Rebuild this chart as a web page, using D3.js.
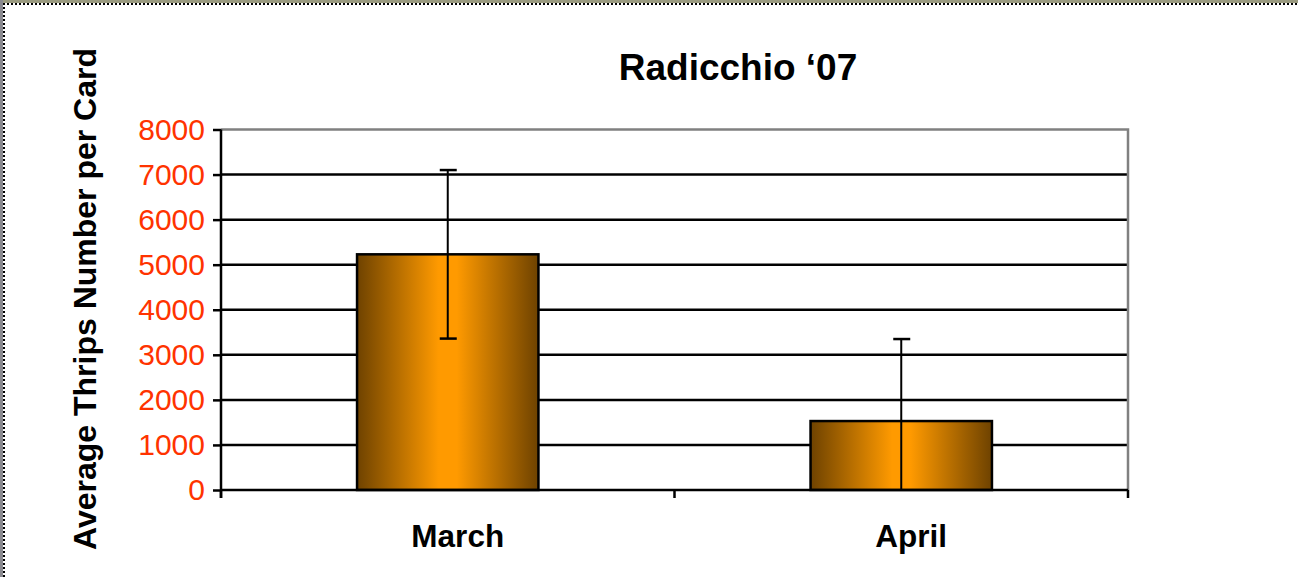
<!DOCTYPE html>
<html>
<head>
<meta charset="utf-8">
<script src="https://cdn.jsdelivr.net/npm/d3@7"></script>
<style>
  html, body { margin: 0; padding: 0; background: #fff; }
  svg { display: block; font-family: "Liberation Sans", Arial, sans-serif; }
</style>
</head>
<body>
<div id="chart"></div>
<script>
// data
const months = ['March', 'April'];
const means = [5230, 1530];
const errors = [1870, 1820];
const yTicks = [0, 1000, 2000, 3000, 4000, 5000, 6000, 7000, 8000];

const width = 1298, height = 577;
const margin = { left: 221, right: 170, top: 129.5, bottom: 87 };

const svg = d3.select('#chart').append('svg')
    .attr('width', width)
    .attr('height', height);

// frame of the slide (dotted edge)
svg.append('rect').attr('x', 0).attr('y', 0).attr('width', width).attr('height', 3)
    .attr('fill', '#9a9a80');
svg.append('rect').attr('x', 0).attr('y', 0).attr('width', 3).attr('height', height)
    .attr('fill', '#8a8a90');
svg.append('line').attr('x1', 3).attr('x2', width).attr('y1', 4).attr('y2', 4)
    .attr('stroke', '#000').attr('stroke-width', 2).attr('stroke-dasharray', '2,2');
svg.append('line').attr('x1', 4).attr('x2', 4).attr('y1', 3).attr('y2', height)
    .attr('stroke', '#000').attr('stroke-width', 2).attr('stroke-dasharray', '2,2');

const x = d3.scaleBand()
    .domain(months)
    .range([margin.left, width - margin.right])
    .paddingInner(0.6)
    .paddingOuter(0.3);

const y = d3.scaleLinear()
    .domain([0, 8000])
    .range([height - margin.bottom, margin.top]);

// gradient fill of the bars
const grad = svg.append('defs').append('linearGradient')
    .attr('id', 'barGrad')
    .attr('x1', '0%').attr('x2', '100%').attr('y1', '0%').attr('y2', '0%');
grad.append('stop').attr('offset', '0%').attr('stop-color', '#6e4200');
grad.append('stop').attr('offset', '45%').attr('stop-color', '#ff9a00');
grad.append('stop').attr('offset', '55%').attr('stop-color', '#ff9a00');
grad.append('stop').attr('offset', '100%').attr('stop-color', '#6e4200');

// grid lines
svg.append('g')
    .selectAll('line')
    .data(yTicks.filter(d => d > 0 && d < 8000))
    .join('line')
    .attr('x1', margin.left).attr('x2', width - margin.right)
    .attr('y1', d => y(d)).attr('y2', d => y(d))
    .attr('stroke', '#000').attr('stroke-width', 2.5);

// plot border, top and right
svg.append('path')
    .attr('d', `M${margin.left},${y(8000)}H${width - margin.right}V${y(0)}`)
    .attr('fill', 'none').attr('stroke', '#808080').attr('stroke-width', 2.5);

// bars
svg.append('g')
    .selectAll('rect')
    .data(months)
    .join('rect')
    .attr('x', d => x(d))
    .attr('width', x.bandwidth())
    .attr('y', (d, i) => y(means[i]))
    .attr('height', (d, i) => y(0) - y(means[i]))
    .attr('fill', 'url(#barGrad)')
    .attr('stroke', '#000').attr('stroke-width', 2.5);

// error bars, clipped at zero
const eb = svg.append('g').attr('stroke', '#000').attr('stroke-width', 2);
months.forEach((m, i) => {
    const cx = x(m) + x.bandwidth() / 2;
    const hi = means[i] + errors[i];
    const lo = Math.max(0, means[i] - errors[i]);
    eb.append('line').attr('x1', cx).attr('x2', cx).attr('y1', y(hi)).attr('y2', y(lo));
    eb.append('line').attr('x1', cx - 8).attr('x2', cx + 9).attr('y1', y(hi)).attr('y2', y(hi))
        .attr('stroke-width', 2.5);
    if (lo > 0) {
        eb.append('line').attr('x1', cx - 8).attr('x2', cx + 9).attr('y1', y(lo)).attr('y2', y(lo))
            .attr('stroke-width', 2.5);
    }
});

// y axis
const yAxis = svg.append('g')
    .attr('transform', `translate(${margin.left},0)`)
    .call(d3.axisLeft(y).tickValues(yTicks).tickFormat(d3.format('d'))
        .tickSize(8).tickPadding(8).tickSizeOuter(0));
yAxis.select('.domain').attr('stroke', '#000').attr('stroke-width', 2.5)
    .attr('d', `M0,${y(8000)}V${y(0) + 8}`);
yAxis.selectAll('.tick line').attr('stroke', '#000').attr('stroke-width', 2.5);
yAxis.selectAll('.tick text')
    .attr('fill', '#ff3300')
    .attr('font-size', 30)
    .attr('font-family', '"Liberation Sans", Arial, sans-serif');

// x axis with ticks on band boundaries
const xAxisY = y(0);
svg.append('line')
    .attr('x1', margin.left).attr('x2', width - margin.right)
    .attr('y1', xAxisY).attr('y2', xAxisY)
    .attr('stroke', '#000').attr('stroke-width', 2.5);
const xb = [margin.left, (margin.left + width - margin.right) / 2, width - margin.right];
svg.append('g')
    .selectAll('line')
    .data(xb)
    .join('line')
    .attr('x1', d => d).attr('x2', d => d)
    .attr('y1', xAxisY).attr('y2', xAxisY + 8)
    .attr('stroke', '#000').attr('stroke-width', 2.5);

svg.append('g')
    .selectAll('text')
    .data(months)
    .join('text')
    .attr('x', d => x(d) + x.bandwidth() / 2 + 10)
    .attr('y', 547)
    .attr('text-anchor', 'middle')
    .attr('font-size', 31.5)
    .attr('font-weight', 'bold')
    .text(d => d);

// title
svg.append('text')
    .attr('x', 738).attr('y', 80)
    .attr('text-anchor', 'middle')
    .attr('font-size', 37)
    .attr('font-weight', 'bold')
    .text('Radicchio \u201807');

// y axis title
svg.append('text')
    .attr('transform', 'translate(96,299) rotate(-90)')
    .attr('text-anchor', 'middle')
    .attr('font-size', 32)
    .attr('font-weight', 'bold')
    .text('Average Thrips Number per Card');
</script>
</body>
</html>
